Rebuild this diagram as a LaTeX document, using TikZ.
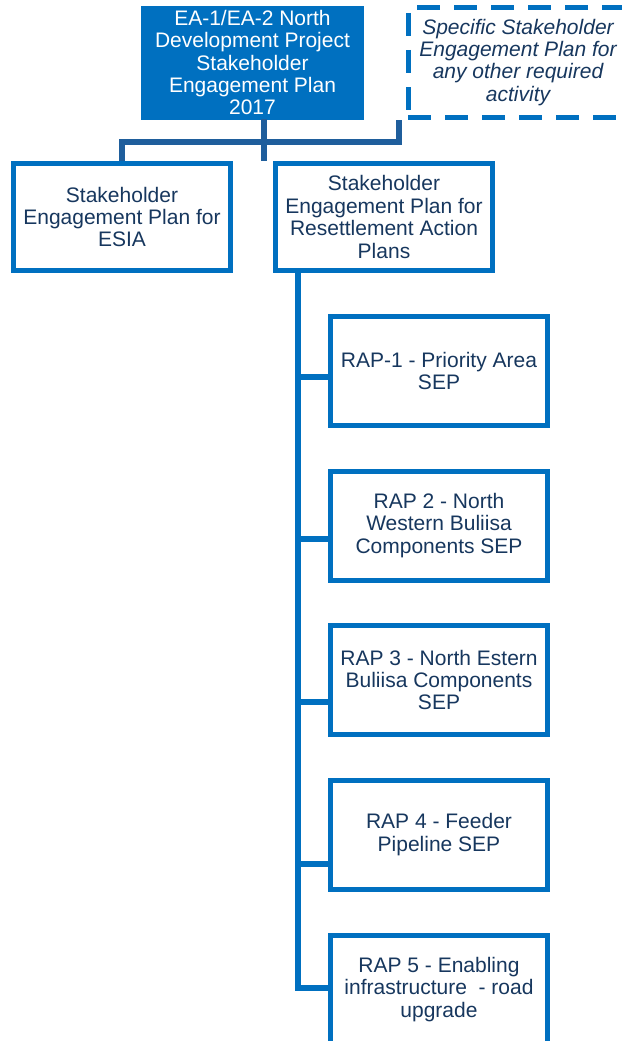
\documentclass[tikz,border=0pt]{standalone}
\usepackage{fontspec}
\setmainfont{Liberation Sans}
\definecolor{boxblue}{HTML}{0070C0}
\definecolor{linkblue}{HTML}{1F5E9C}
\definecolor{navy}{HTML}{17375E}
\tikzset{
  txt/.style={font=\fontsize{21}{22.4}\selectfont, align=center, inner sep=0pt},
  mainbox/.style={txt, fill=boxblue, draw=boxblue, line width=0.5pt, text=white,
    minimum width=222pt, minimum height=113pt},
  planbox/.style={txt, draw=boxblue, line width=5pt, fill=white, text=navy,
    minimum width=217pt, minimum height=107pt},
  rapbox/.style={txt, draw=boxblue, line width=5pt, fill=white, text=navy,
    minimum width=217pt, minimum height=109pt},
  otherbox/.style={txt, draw=boxblue, line width=5pt, dash pattern=on 23pt off 14pt,
    text=navy, font=\fontsize{21}{22.4}\selectfont\itshape,
    minimum width=220pt, minimum height=109.5pt},
  link/.style={draw=linkblue, line width=6pt},
  spine/.style={draw=boxblue, line width=6pt},
}
\begin{document}
\begin{tikzpicture}[x=1pt, y=-1pt]
\useasboundingbox (0,0) rectangle (621,1041);

% top level plan and the optional plans beside it
\node[mainbox] (top) at (252.5,62.5)
  {EA-1/EA-2 North\\Development Project\\Stakeholder\\Engagement Plan\\2017};
\node[otherbox] (other) at (518,62.25)
  {Specific Stakeholder\\Engagement Plan for\\any other required\\activity};

% second level plans
\node[planbox] (esia) at (122,217) {Stakeholder\\Engagement Plan for\\ESIA};
\node[planbox] (rap) at (384,217)
  {Stakeholder\\Engagement Plan for\\Resettlement Action\\Plans};

% resettlement action plan SEPs
\node[rapbox] (rap1) at (439,371) {RAP-1 - Priority Area\\SEP};
\node[rapbox] (rap2) at (439,525.5) {RAP 2 - North\\Western Buliisa\\Components SEP};
\node[rapbox] (rap3) at (439,680) {RAP 3 - North Estern\\Buliisa Components\\SEP};
\node[rapbox] (rap4) at (439,834.5) {RAP 4 - Feeder\\Pipeline SEP};
\node[rapbox] (rap5) at (439,989.5) {RAP 5 - Enabling\\infrastructure~~- road\\upgrade};

% junctions of the top connector
\coordinate (hub) at (264,142);
\coordinate (jl) at (122,142);
\coordinate (jr) at (399,142);

\draw[link] (top.south -| hub) -- (hub |- esia.north);
\draw[link] (esia.north -| jl) -- (jl) -- (jr) -- (jr |- other.south);

% spine feeding the RAP SEPs
\coordinate (sp) at (298,0);
\draw[spine] (rap.south -| sp) -- (sp |- 0,988) -- (rap5.west |- 0,988);
\draw[spine] (sp |- 0,377) -- (rap1.west |- 0,377);
\draw[spine] (sp |- 0,539) -- (rap2.west |- 0,539);
\draw[spine] (sp |- 0,702) -- (rap3.west |- 0,702);
\draw[spine] (sp |- 0,864) -- (rap4.west |- 0,864);
\end{tikzpicture}
\end{document}
